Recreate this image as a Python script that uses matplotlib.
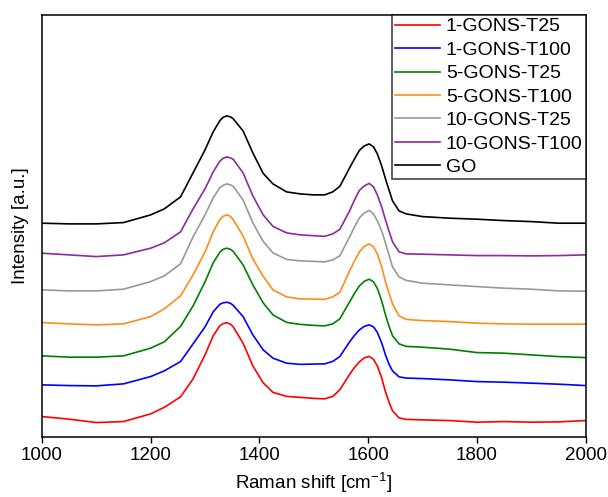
import matplotlib.pyplot as plt

plt.rcParams['font.family'] = ['Liberation Sans', 'DejaVu Sans']
plt.rcParams['mathtext.default'] = 'regular'

# Raman shift sampling points (cm^-1)
raman_shift = [1000, 1050, 1100, 1150, 1200, 1225, 1255, 1278, 1300, 1315,
               1327, 1333, 1340, 1347, 1352, 1370, 1388, 1407, 1425, 1450,
               1475, 1500, 1520, 1535, 1548, 1566, 1575, 1584, 1593, 1602,
               1610, 1617, 1625, 1632, 1639, 1645, 1657, 1670, 1700, 1750,
               1800, 1850, 1900, 1950, 2000]

# Stacked spectra (arbitrary units, offset for clarity)
gons1_t25 = [20.3, 17.7, 14.3, 15.3, 23.0, 29.5, 40.0, 58.0, 82.0, 101.0,
             111.0, 113.2, 114.2, 112.6, 110.0, 93.7, 71.0, 54.0, 44.5, 40.5,
             39.5, 38.5, 38.0, 40.5, 47.0, 62.5, 69.5, 75.0, 79.0, 80.5,
             77.5, 71.0, 59.0, 45.0, 34.0, 26.0, 19.0, 17.5, 17.0, 16.3,
             14.7, 15.3, 14.7, 15.0, 16.3]
gons1_t100 = [52.0, 51.3, 51.0, 53.0, 60.3, 66.0, 75.3, 93.0, 110.0, 125.0,
              132.5, 134.0, 134.7, 133.5, 131.5, 120.3, 102.0, 87.0, 78.7, 73.7,
              72.5, 72.8, 73.0, 75.5, 80.3, 95.0, 101.5, 107.0, 110.5, 112.0,
              110.0, 104.5, 94.0, 82.0, 72.0, 66.0, 60.0, 58.8, 58.3, 57.0,
              55.3, 54.7, 53.7, 52.7, 51.3]
gons5_t25 = [81.0, 79.7, 79.7, 81.0, 88.7, 95.0, 110.5, 131.0, 155.0, 174.0,
             184.5, 187.5, 188.7, 187.5, 185.5, 172.0, 152.0, 134.0, 122.0, 114.5,
             112.5, 111.5, 111.0, 113.0, 118.0, 135.0, 143.5, 151.0, 155.5, 157.7,
             155.0, 148.5, 136.0, 122.0, 110.0, 101.0, 93.0, 90.5, 89.7, 87.7,
             84.3, 83.7, 82.0, 80.3, 79.3]
gons5_t100 = [114.3, 113.0, 112.0, 113.0, 120.3, 128.0, 141.0, 162.0, 185.0, 205.0,
              217.0, 220.5, 222.0, 220.5, 217.0, 201.0, 178.0, 160.5, 147.0, 140.0,
              138.0, 137.8, 137.5, 140.0, 144.5, 166.0, 176.0, 185.0, 190.5, 193.0,
              190.0, 183.0, 170.0, 155.0, 143.0, 133.0, 121.0, 117.5, 116.3, 115.3,
              113.7, 113.0, 112.7, 112.7, 112.7]
gons10_t25 = [147.0, 146.0, 146.0, 147.7, 155.3, 161.0, 173.0, 200.0, 222.0, 239.0,
              249.0, 251.5, 253.0, 252.0, 250.5, 237.0, 214.0, 195.5, 184.0, 177.5,
              176.0, 175.5, 175.0, 177.0, 181.0, 200.0, 210.0, 219.0, 224.0, 226.5,
              223.0, 216.0, 206.0, 194.0, 181.0, 170.0, 160.0, 156.5, 153.7, 152.0,
              150.3, 148.7, 147.7, 146.0, 145.7]
gons10_t100 = [183.7, 182.0, 180.3, 182.0, 188.7, 194.0, 205.0, 228.0, 248.0, 265.0,
               275.5, 278.5, 280.0, 279.0, 277.5, 264.0, 241.0, 222.0, 210.5, 204.0,
               202.0, 201.2, 200.5, 203.0, 207.5, 226.0, 237.0, 246.5, 251.0, 253.5,
               250.0, 242.0, 230.0, 217.0, 205.0, 195.0, 185.0, 183.0, 182.7, 182.0,
               181.3, 181.3, 181.0, 181.3, 182.0]
go = [213.7, 213.0, 213.0, 214.3, 222.0, 228.0, 240.0, 264.0, 287.0, 305.0,
      316.0, 319.5, 321.0, 320.0, 318.0, 306.0, 284.0, 263.5, 253.0, 245.0,
      243.0, 242.0, 242.0, 245.0, 250.5, 269.0, 278.0, 286.5, 291.0, 293.0,
      290.0, 283.0, 271.0, 258.0, 246.0, 236.0, 226.0, 223.0, 220.3, 218.7,
      217.7, 216.3, 215.3, 213.7, 213.7]

series = [
    ("1-GONS-T25", gons1_t25, "#ff0000"),
    ("1-GONS-T100", gons1_t100, "#0000ff"),
    ("5-GONS-T25", gons5_t25, "#008000"),
    ("5-GONS-T100", gons5_t100, "#ff8c1a"),
    ("10-GONS-T25", gons10_t25, "#999999"),
    ("10-GONS-T100", gons10_t100, "#8b2a9b"),
    ("GO", go, "#000000"),
]

fig = plt.figure(figsize=(6.08, 4.97), dpi=100)
ax = fig.add_axes([0.069, 0.121, 0.894, 0.849])

for label, values, color in series:
    ax.plot(raman_shift, values, color=color, lw=1.2, label=label)

ax.set_xlim(1000, 2000)
ax.set_ylim(0, 422)
ax.set_xticks([1000, 1200, 1400, 1600, 1800, 2000])
ax.set_yticks([])
ax.tick_params(axis='x', direction='out', length=4, width=1, labelsize=13.5, pad=3)

for spine in ax.spines.values():
    spine.set_linewidth(1.1)

ax.set_xlabel("Raman shift [cm$^{-1}$]", fontsize=13.5, labelpad=5)
ax.set_ylabel("Intensity [a.u.]", fontsize=13.5, labelpad=9)

leg = ax.legend(loc='upper right', fontsize=14, frameon=True, fancybox=False,
                borderaxespad=0, borderpad=0.15, labelspacing=0.3,
                handlelength=2.3, handletextpad=0.3)
leg.get_frame().set_edgecolor('black')
leg.get_frame().set_linewidth(1.1)

plt.savefig("out.png", dpi=100)
